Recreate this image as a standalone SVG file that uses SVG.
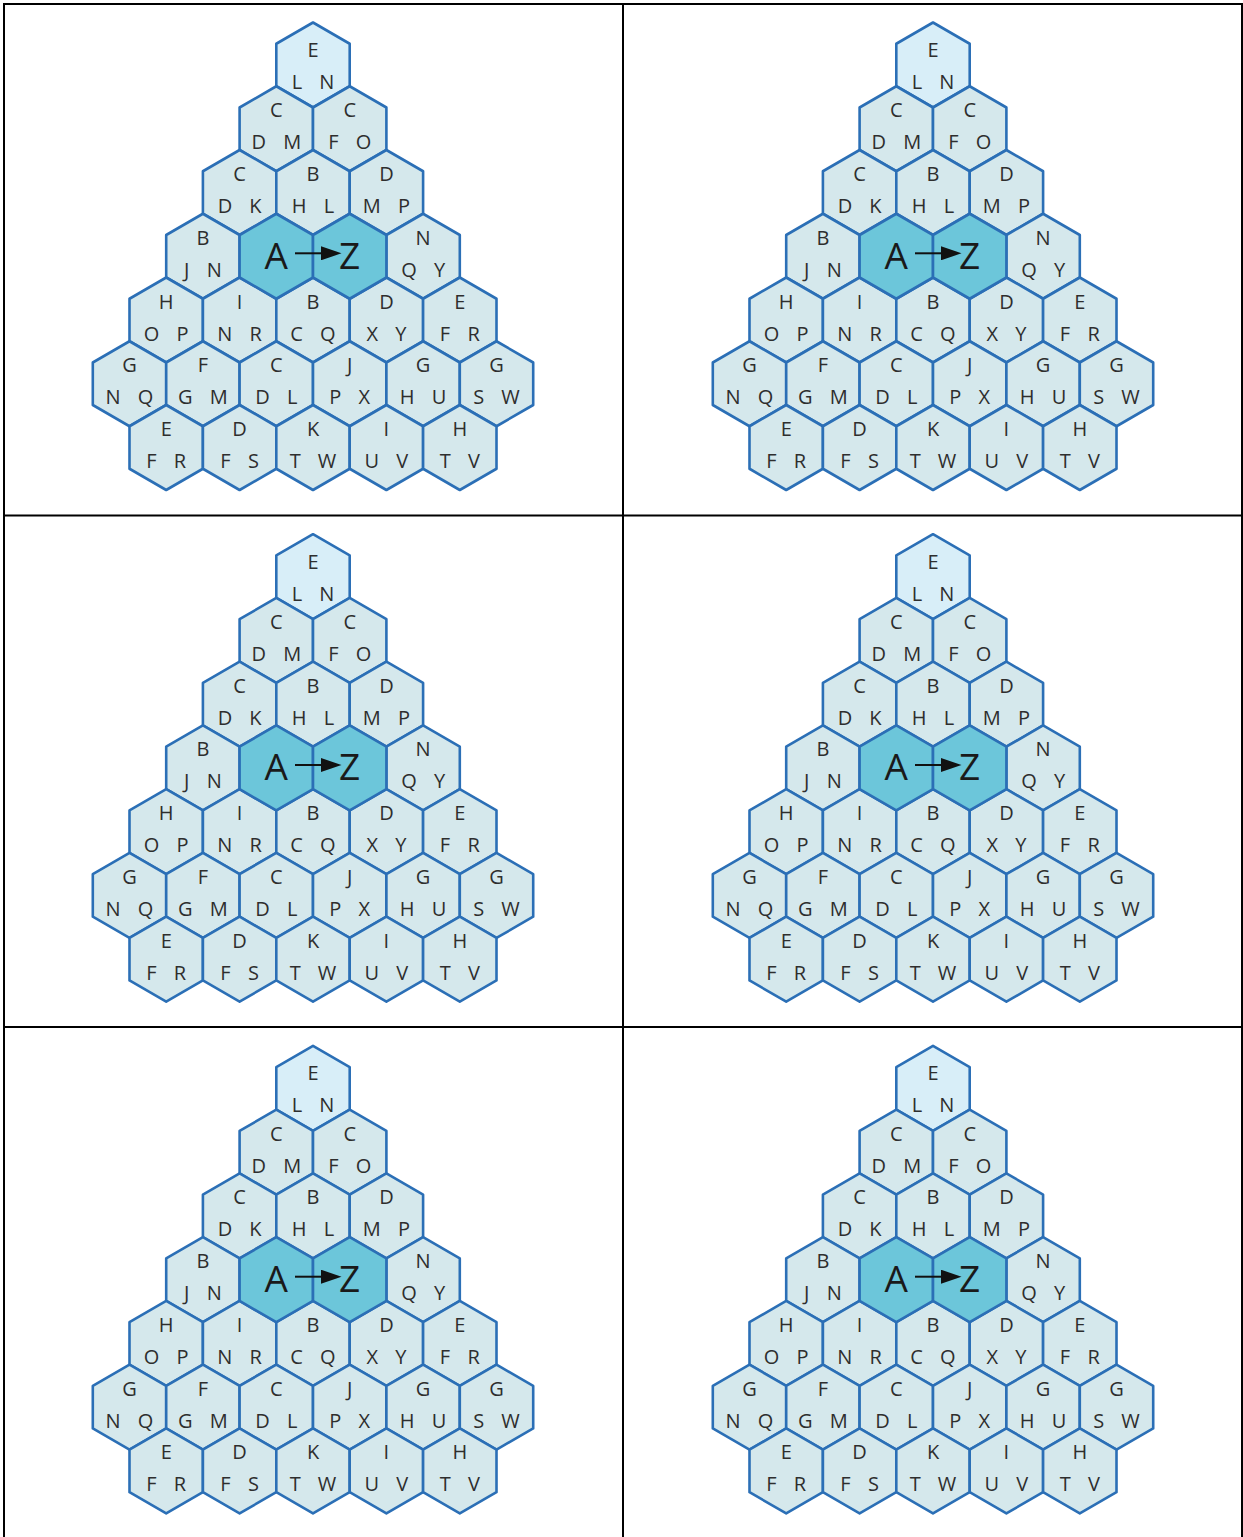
<svg xmlns="http://www.w3.org/2000/svg" width="1243" height="1537" viewBox="0 0 1243 1537">
<style>
.hx{stroke:#2b6fb6;stroke-width:2.6;stroke-linejoin:round}
.n{fill:#d5e8ec}
.t{fill:#d8eef8}
.az{fill:#6cc6da}
.l{font-family:"Open Sans","DejaVu Sans",sans-serif;font-size:20px;fill:#2e2e2e;text-anchor:middle;word-spacing:12px}
.big{font-family:"Open Sans","DejaVu Sans",sans-serif;font-size:37px;fill:#1a1a1a;text-anchor:middle}
.grid{stroke:#000;stroke-width:2;fill:none}
.arr{stroke:#111;stroke-width:2;fill:none}
</style>
<defs>
<path id="hex" d="M0,-42.5L36.7,-21.25L36.7,21.25L0,42.5L-36.7,21.25L-36.7,-21.25Z"/>
<marker id="ah" markerUnits="userSpaceOnUse" markerWidth="21" markerHeight="14" refX="0" refY="7" orient="auto">
<path d="M0,0L20.5,7L0,14Z" fill="#111"/>
</marker>
<g id="pyr">
<g id="nodes">
<g id="r1c1" transform="translate(313,65)"><use href="#hex" class="hx t"/><text class="l" y="-8">E</text><text class="l" y="24">L N</text></g>
<g id="r2c1" transform="translate(276.3,128.75)"><use href="#hex" class="hx n"/><text class="l" y="-11.5">C</text><text class="l" y="20.5">D M</text></g>
<g id="r2c2" transform="translate(349.7,128.75)"><use href="#hex" class="hx n"/><text class="l" y="-11.5">C</text><text class="l" y="20.5">F O</text></g>
<g id="r3c1" transform="translate(239.6,192.5)"><use href="#hex" class="hx n"/><text class="l" y="-11.5">C</text><text class="l" y="20.5">D K</text></g>
<g id="r3c2" transform="translate(313,192.5)"><use href="#hex" class="hx n"/><text class="l" y="-11.5">B</text><text class="l" y="20.5">H L</text></g>
<g id="r3c3" transform="translate(386.4,192.5)"><use href="#hex" class="hx n"/><text class="l" y="-11.5">D</text><text class="l" y="20.5">M P</text></g>
<g id="r4c1" transform="translate(202.9,256.25)"><use href="#hex" class="hx n"/><text class="l" y="-11.5">B</text><text class="l" y="20.5">J N</text></g>
<g id="r4c4" transform="translate(423.1,256.25)"><use href="#hex" class="hx n"/><text class="l" y="-11.5">N</text><text class="l" y="20.5">Q Y</text></g>
<g id="r5c1" transform="translate(166.2,320)"><use href="#hex" class="hx n"/><text class="l" y="-11.5">H</text><text class="l" y="20.5">O P</text></g>
<g id="r5c2" transform="translate(239.6,320)"><use href="#hex" class="hx n"/><text class="l" y="-11.5">I</text><text class="l" y="20.5">N R</text></g>
<g id="r5c3" transform="translate(313,320)"><use href="#hex" class="hx n"/><text class="l" y="-11.5">B</text><text class="l" y="20.5">C Q</text></g>
<g id="r5c4" transform="translate(386.4,320)"><use href="#hex" class="hx n"/><text class="l" y="-11.5">D</text><text class="l" y="20.5">X Y</text></g>
<g id="r5c5" transform="translate(459.8,320)"><use href="#hex" class="hx n"/><text class="l" y="-11.5">E</text><text class="l" y="20.5">F R</text></g>
<g id="r6c1" transform="translate(129.5,383.75)"><use href="#hex" class="hx n"/><text class="l" y="-11.5">G</text><text class="l" y="20.5">N Q</text></g>
<g id="r6c2" transform="translate(202.9,383.75)"><use href="#hex" class="hx n"/><text class="l" y="-11.5">F</text><text class="l" y="20.5">G M</text></g>
<g id="r6c3" transform="translate(276.3,383.75)"><use href="#hex" class="hx n"/><text class="l" y="-11.5">C</text><text class="l" y="20.5">D L</text></g>
<g id="r6c4" transform="translate(349.7,383.75)"><use href="#hex" class="hx n"/><text class="l" y="-11.5">J</text><text class="l" y="20.5">P X</text></g>
<g id="r6c5" transform="translate(423.1,383.75)"><use href="#hex" class="hx n"/><text class="l" y="-11.5">G</text><text class="l" y="20.5">H U</text></g>
<g id="r6c6" transform="translate(496.5,383.75)"><use href="#hex" class="hx n"/><text class="l" y="-11.5">G</text><text class="l" y="20.5">S W</text></g>
<g id="r7c1" transform="translate(166.2,447.5)"><use href="#hex" class="hx n"/><text class="l" y="-11.5">E</text><text class="l" y="20.5">F R</text></g>
<g id="r7c2" transform="translate(239.6,447.5)"><use href="#hex" class="hx n"/><text class="l" y="-11.5">D</text><text class="l" y="20.5">F S</text></g>
<g id="r7c3" transform="translate(313,447.5)"><use href="#hex" class="hx n"/><text class="l" y="-11.5">K</text><text class="l" y="20.5">T W</text></g>
<g id="r7c4" transform="translate(386.4,447.5)"><use href="#hex" class="hx n"/><text class="l" y="-11.5">I</text><text class="l" y="20.5">U V</text></g>
<g id="r7c5" transform="translate(459.8,447.5)"><use href="#hex" class="hx n"/><text class="l" y="-11.5">H</text><text class="l" y="20.5">T V</text></g>
<g id="nodeA" transform="translate(276.3,256.25)"><use href="#hex" class="hx az"/><text class="big" y="12.5">A</text></g>
<g id="nodeZ" transform="translate(349.7,256.25)"><use href="#hex" class="hx az"/><text class="big" y="12.5">Z</text></g>
</g>
<g id="connectors">
<line class="arr" x1="295" y1="253.3" x2="321" y2="253.3" marker-end="url(#ah)"/>
</g>
</g>
</defs>
<rect x="0" y="0" width="1243" height="1537" fill="#fff"/>
<use href="#pyr" x="0" y="0"/>
<use href="#pyr" x="620" y="0"/>
<use href="#pyr" x="0" y="511.7"/>
<use href="#pyr" x="620" y="511.7"/>
<use href="#pyr" x="0" y="1023.4"/>
<use href="#pyr" x="620" y="1023.4"/>
<g id="grid">
<path class="grid" d="M3,4H1243M3,515.5H1243M3,1027H1243M4,3V1537M623,3V1537M1242,3V1537"/>
</g>
</svg>
